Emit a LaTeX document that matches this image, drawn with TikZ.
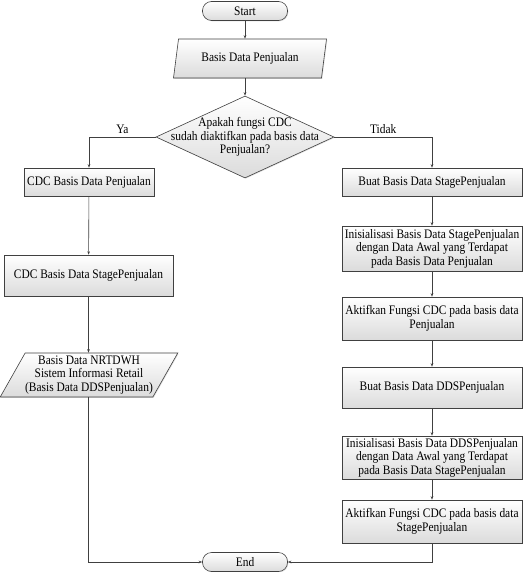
\documentclass[tikz,border=0pt]{standalone}
\usepackage{fontspec}
\setmainfont{Liberation Serif}[FakeStretch=0.88]
\usetikzlibrary{shapes.geometric,arrows.meta,shadows}

\tikzset{
  alur/.style={draw=black!75, line width=0.6pt, -{Stealth[length=3.5pt,width=2.6pt]}},
  isi/.style={draw=black!75, line width=0.6pt, top color=white, bottom color=black!14,
    font=\fontsize{13}{13.5}\selectfont, align=center, inner sep=1pt,
    drop shadow={opacity=0.25, shadow xshift=0.8pt, shadow yshift=-0.8pt}},
  proses/.style={isi, rectangle, minimum width=180pt, minimum height=#1},
  proses/.default=43pt,
  data/.style={isi, trapezium, trapezium stretches body=true},
  keputusan/.style={isi, diamond, aspect=2.2, inner xsep=-24pt, inner ysep=-6pt,
    minimum width=178pt, minimum height=82pt},
  terminal/.style={isi, rectangle, rounded corners=9pt, minimum width=85pt, minimum height=19pt},
  label/.style={font=\fontsize{13}{13.5}\selectfont, text=black}
}

\begin{document}
\begin{tikzpicture}[x=1pt, y=-1pt]
\useasboundingbox (0,0) rectangle (523,572);

% Start and input
\node[terminal] (mulai) at (245,11) {Start};
\node[data, minimum width=153pt, minimum height=39pt,
  trapezium left angle=70, trapezium right angle=110] (jual) at (250,58.5) {Basis Data Penjualan};

% Decision
\node[keputusan] (tanya) at (245,137) {Apakah fungsi CDC\\sudah diaktifkan pada basis data\\Penjualan?};

% Branch Ya
\node[proses=28pt, minimum width=130pt] (cdcjual) at (89,182) {CDC Basis Data Penjualan};
\node[proses=41pt, minimum width=169pt] (cdcstage) at (88.5,275.5) {CDC Basis Data StagePenjualan};
\node[data, minimum width=176pt, minimum height=44pt, inner sep=0pt,
  trapezium left angle=57, trapezium right angle=123] (nrt) at (89,375)
  {Basis Data NRTDWH\\Sistem Informasi Retail\\(Basis Data DDSPenjualan)};

% Branch Tidak
\node[proses=28pt] (buatstage) at (432,182) {Buat Basis Data StagePenjualan};
\node[proses=45pt] (initstage) at (432,248.5) {Inisialisasi Basis Data StagePenjualan\\dengan Data Awal yang Terdapat\\pada Basis Data Penjualan};
\node[proses] (aktifjual) at (432,318.5) {Aktifkan Fungsi CDC pada basis data\\Penjualan};
\node[proses=41pt] (buatdds) at (432,387.5) {Buat Basis Data DDSPenjualan};
\node[proses] (initdds) at (432,457.5) {Inisialisasi Basis Data DDSPenjualan\\dengan Data Awal yang Terdapat\\pada Basis Data StagePenjualan};
\node[proses] (aktifstage) at (432,521.5) {Aktifkan Fungsi CDC pada basis data\\StagePenjualan};

% End
\node[terminal] (selesai) at (245,562) {End};

% Connectors
\draw[alur] (mulai.south) -- (mulai.south |- jual.north);
\draw[alur] (tanya.north |- jual.south) -- (tanya.north);
\draw[alur] (tanya.west) -| node[label, pos=0.25, above] {Ya} (cdcjual.north);
\draw[alur] (tanya.east) -| node[label, pos=0.25, above] {Tidak} (buatstage.north);
\draw[alur] (cdcjual) -- (cdcstage);
\draw[alur] (cdcstage.south) -- (cdcstage.south |- nrt.north);
\draw[alur] (buatstage) -- (initstage);
\draw[alur] (initstage) -- (aktifjual);
\draw[alur] (aktifjual) -- (buatdds);
\draw[alur] (buatdds) -- (initdds);
\draw[alur] (initdds) -- (aktifstage);
\draw[alur] (cdcstage.south |- nrt.south) |- (selesai.west);
\draw[alur] (aktifstage.south) |- (selesai.east);
\end{tikzpicture}
\end{document}
